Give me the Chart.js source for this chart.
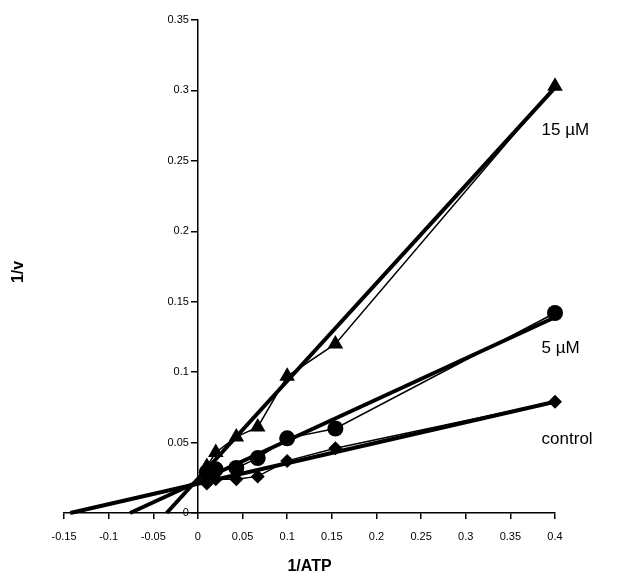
<!DOCTYPE html>
<html>
<head>
<meta charset="utf-8">
<script src="https://cdn.jsdelivr.net/npm/chart.js@4"></script>
<style>
  html, body { margin: 0; padding: 0; background: #fff; }
  #wrap { position: relative; width: 621px; height: 581px; }
</style>
</head>
<body>
<div id="wrap"><canvas id="chart" width="621" height="581"></canvas></div>
<script>
// 1/[ATP] values shared by all three series
const invATP = [0.01, 0.02, 0.043, 0.067, 0.1, 0.154, 0.4];

// measured 1/v
const controlV = [0.021, 0.024, 0.024, 0.026, 0.037, 0.046, 0.079];
const inh5V    = [0.029, 0.031, 0.032, 0.039, 0.053, 0.060, 0.142];
const inh15V   = [0.033, 0.043, 0.054, 0.061, 0.097, 0.120, 0.303];

// fitted lines: [x-intercept, last x] and [0, y at last x]
const controlFitX = [-0.143, 0.4];
const controlFitY = [0, 0.079];
const inh5FitX = [-0.076, 0.4];
const inh5FitY = [0, 0.139];
const inh15FitX = [-0.035, 0.4];
const inh15FitY = [0, 0.302];

const seriesLabels = ['15 µM', '5 µM', 'control'];
const xTicks = [-0.15, -0.1, -0.05, 0, 0.05, 0.1, 0.15, 0.2, 0.25, 0.3, 0.35, 0.4];
const yTicks = [0, 0.05, 0.1, 0.15, 0.2, 0.25, 0.3, 0.35];

const FONT = 'Liberation Sans, Arial, Helvetica, sans-serif';

const pts = (xs, ys) => xs.map((x, i) => ({ x, y: ys[i] }));
const fmt = v => String(+v.toFixed(2));

function dataSet(xs, ys, style, radius) {
  return {
    data: pts(xs, ys),
    borderColor: '#000',
    backgroundColor: '#000',
    borderWidth: 1.5,
    pointStyle: style,
    pointRadius: radius,
    pointBorderWidth: 0,
    showLine: true,
    tension: 0,
    clip: false,
  };
}

function fitSet(xs, ys) {
  return {
    data: pts(xs, ys),
    borderColor: '#000',
    borderWidth: 4,
    pointRadius: 0,
    showLine: true,
    tension: 0,
    clip: false,
  };
}

// y tick labels (axis sits at x = 0), series names, rotated y title
const labelPlugin = {
  id: 'labels',
  afterDraw(chart) {
    const { ctx, scales: { x, y } } = chart;
    ctx.save();
    ctx.fillStyle = '#000';
    ctx.textBaseline = 'middle';

    ctx.textAlign = 'right';
    ctx.font = '11px ' + FONT;
    const ax = x.getPixelForValue(0);
    yTicks.forEach(v => ctx.fillText(fmt(v), ax - 9, y.getPixelForValue(v)));

    ctx.textAlign = 'left';
    ctx.font = '17px ' + FONT;
    const at = [0.272, 0.117, 0.052];
    seriesLabels.forEach((t, i) => ctx.fillText(t, x.getPixelForValue(0.385), y.getPixelForValue(at[i])));

    ctx.translate(19, 272);
    ctx.rotate(-Math.PI / 2);
    ctx.textAlign = 'center';
    ctx.font = 'bold 16px ' + FONT;
    ctx.fillText('1/v', 0, 0);
    ctx.restore();
  }
};

new Chart(document.getElementById('chart'), {
  type: 'scatter',
  data: {
    datasets: [
      fitSet(controlFitX, controlFitY),
      fitSet(inh5FitX, inh5FitY),
      fitSet(inh15FitX, inh15FitY),
      dataSet(invATP, controlV, 'rectRot', 7),
      dataSet(invATP, inh5V, 'circle', 8),
      dataSet(invATP, inh15V, 'triangle', 9),
    ]
  },
  options: {
    responsive: false,
    animation: false,
    layout: { padding: { left: 64, right: 66, top: 20, bottom: 0 } },
    plugins: { legend: { display: false }, tooltip: { enabled: false } },
    scales: {
      x: {
        type: 'linear',
        min: -0.15,
        max: 0.4,
        afterBuildTicks: s => { s.ticks = xTicks.map(v => ({ value: v })); },
        afterFit: s => { s.height = 68; },
        border: { color: '#000', width: 1.5 },
        grid: { drawOnChartArea: false, color: '#000', tickLength: 6, lineWidth: 1.5 },
        ticks: {
          color: '#000',
          padding: 11,
          font: { family: FONT, size: 11 },
          callback: fmt,
          maxRotation: 0,
          autoSkip: false,
        },
        title: {
          display: true,
          text: '1/ATP',
          color: '#000',
          font: { family: FONT, size: 16, weight: 'bold' },
          padding: { top: 0, bottom: 5 },
        },
      },
      y: {
        type: 'linear',
        position: { x: 0 },
        min: 0,
        max: 0.35,
        afterBuildTicks: s => { s.ticks = yTicks.map(v => ({ value: v })); },
        border: { color: '#000', width: 1.5 },
        grid: { drawOnChartArea: false, color: '#000', tickLength: 6, lineWidth: 1.5 },
        ticks: { color: 'rgba(0,0,0,0)', font: { family: FONT, size: 11 }, autoSkip: false },
      },
    },
  },
  plugins: [labelPlugin],
});
</script>
</body>
</html>
